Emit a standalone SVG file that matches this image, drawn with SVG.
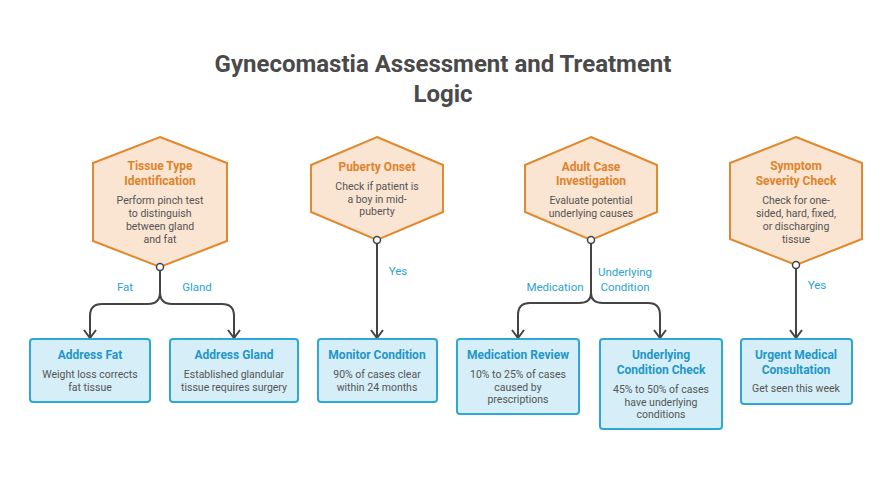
<svg xmlns="http://www.w3.org/2000/svg" width="892" height="484" viewBox="0 0 892 484">
<style>
.hex{fill:#fae4d2;stroke:#e0892e;stroke-width:2}
.box{fill:#d5eef8;stroke:#2ea7d5;stroke-width:2}
.ht{font:bold 12px Roboto,"Liberation Sans",sans-serif;fill:#e0832a;text-anchor:middle}
.bt{font:bold 12px Roboto,"Liberation Sans",sans-serif;fill:#1f97c9;text-anchor:middle}
.d{font:10.5px Roboto,"Liberation Sans",sans-serif;fill:#555;text-anchor:middle}
.lbl{font:11.5px Roboto,"Liberation Sans",sans-serif;fill:#2aa3d6;text-anchor:middle}
.c{fill:none;stroke:#444;stroke-width:2}
.dot{fill:#fff;stroke:#444;stroke-width:1.5}
.ti{font:bold 24px Roboto,'Liberation Sans',sans-serif;fill:#4a4a4a;text-anchor:middle}
</style>
<text class="ti" x="443" y="72">Gynecomastia Assessment and Treatment</text>
<text class="ti" x="443" y="102">Logic</text>
<g id="connectors">
<path class="c" d="M160 267 V292 Q160 304 148 304 H102 Q90 304 90 316 V338"/>
<path class="c" d="M160 292 Q160 304 172 304 H222 Q234 304 234 316 V338"/>
<path class="c" d="M377 240 V338"/>
<path class="c" d="M591 240 V293 Q591 303 579 303 H530 Q518 303 518 315 V338"/>
<path class="c" d="M591 293 Q591 303 603 303 H648 Q660 303 660 315 V338"/>
<path class="c" d="M796 265 V338"/>
<path d="M84 330 L90 338 L96 330 M228 330 L234 338 L240 330 M371 330 L377 338 L383 330 M512 330 L518 338 L524 330 M654 330 L660 338 L666 330 M790 330 L796 338 L802 330" fill="none" stroke="#444" stroke-width="2"/>
<text class="lbl" x="125" y="291">Fat</text>
<text class="lbl" x="197" y="291">Gland</text>
<text class="lbl" x="398" y="275">Yes</text>
<text class="lbl" x="555" y="291">Medication</text>
<text class="lbl" x="625" y="276">Underlying</text>
<text class="lbl" x="625" y="291">Condition</text>
<text class="lbl" x="817" y="289">Yes</text>
</g>
<g id="tissue"><polygon class="hex" points="160,137 227,163 227,241 160,267 93,241 93,163"/>
<text class="ht" x="160" y="170">Tissue Type</text><text class="ht" x="160" y="185">Identification</text>
<text class="d" x="160" y="204">Perform pinch test</text><text class="d" x="160" y="217">to distinguish</text><text class="d" x="160" y="230">between gland</text><text class="d" x="160" y="243">and fat</text>
<circle class="dot" cx="160" cy="267" r="3.5"/></g>
<g id="puberty"><polygon class="hex" points="377,137 443,165 443,212 377,240 311,212 311,165"/>
<text class="ht" x="377" y="171">Puberty Onset</text>
<text class="d" x="377" y="190">Check if patient is</text><text class="d" x="377" y="203">a boy in mid-</text><text class="d" x="377" y="215">puberty</text>
<circle class="dot" cx="377" cy="240" r="3.5"/></g>
<g id="adult"><polygon class="hex" points="591,137 657,165 657,212 591,240 525,212 525,165"/>
<text class="ht" x="591" y="171">Adult Case</text><text class="ht" x="591" y="185">Investigation</text>
<text class="d" x="591" y="204">Evaluate potential</text><text class="d" x="591" y="217">underlying causes</text>
<circle class="dot" cx="591" cy="240" r="3.5"/></g>
<g id="symptom"><polygon class="hex" points="796,137 862,163 862,239 796,265 730,239 730,163"/>
<text class="ht" x="796" y="170">Symptom</text><text class="ht" x="796" y="185">Severity Check</text>
<text class="d" x="796" y="204">Check for one-</text><text class="d" x="796" y="217">sided, hard, fixed,</text><text class="d" x="796" y="230">or discharging</text><text class="d" x="796" y="243">tissue</text>
<circle class="dot" cx="796" cy="265" r="3.5"/></g>
<g id="fat"><rect class="box" x="30" y="339" width="120" height="63" rx="3"/>
<text class="bt" x="90" y="359">Address Fat</text><text class="d" x="90" y="378">Weight loss corrects</text><text class="d" x="90" y="391">fat tissue</text></g>
<g id="gland"><rect class="box" x="170" y="339" width="128" height="63" rx="3"/>
<text class="bt" x="234" y="359">Address Gland</text><text class="d" x="234" y="378">Established glandular</text><text class="d" x="234" y="391">tissue requires surgery</text></g>
<g id="monitor"><rect class="box" x="318" y="339" width="119" height="63" rx="3"/>
<text class="bt" x="377" y="359">Monitor Condition</text><text class="d" x="377" y="378">90% of cases clear</text><text class="d" x="377" y="391">within 24 months</text></g>
<g id="medication"><rect class="box" x="457" y="339" width="122" height="75" rx="3"/>
<text class="bt" x="518" y="359">Medication Review</text><text class="d" x="518" y="378">10% to 25% of cases</text><text class="d" x="518" y="391">caused by</text><text class="d" x="518" y="403">prescriptions</text></g>
<g id="underlying"><rect class="box" x="600" y="339" width="122" height="90" rx="3"/>
<text class="bt" x="661" y="359">Underlying</text><text class="bt" x="661" y="374">Condition Check</text><text class="d" x="661" y="393">45% to 50% of cases</text><text class="d" x="661" y="406">have underlying</text><text class="d" x="661" y="418">conditions</text></g>
<g id="urgent"><rect class="box" x="741" y="339" width="111" height="65" rx="3"/>
<text class="bt" x="796" y="359">Urgent Medical</text><text class="bt" x="796" y="374">Consultation</text><text class="d" x="796" y="392">Get seen this week</text></g>
</svg>
